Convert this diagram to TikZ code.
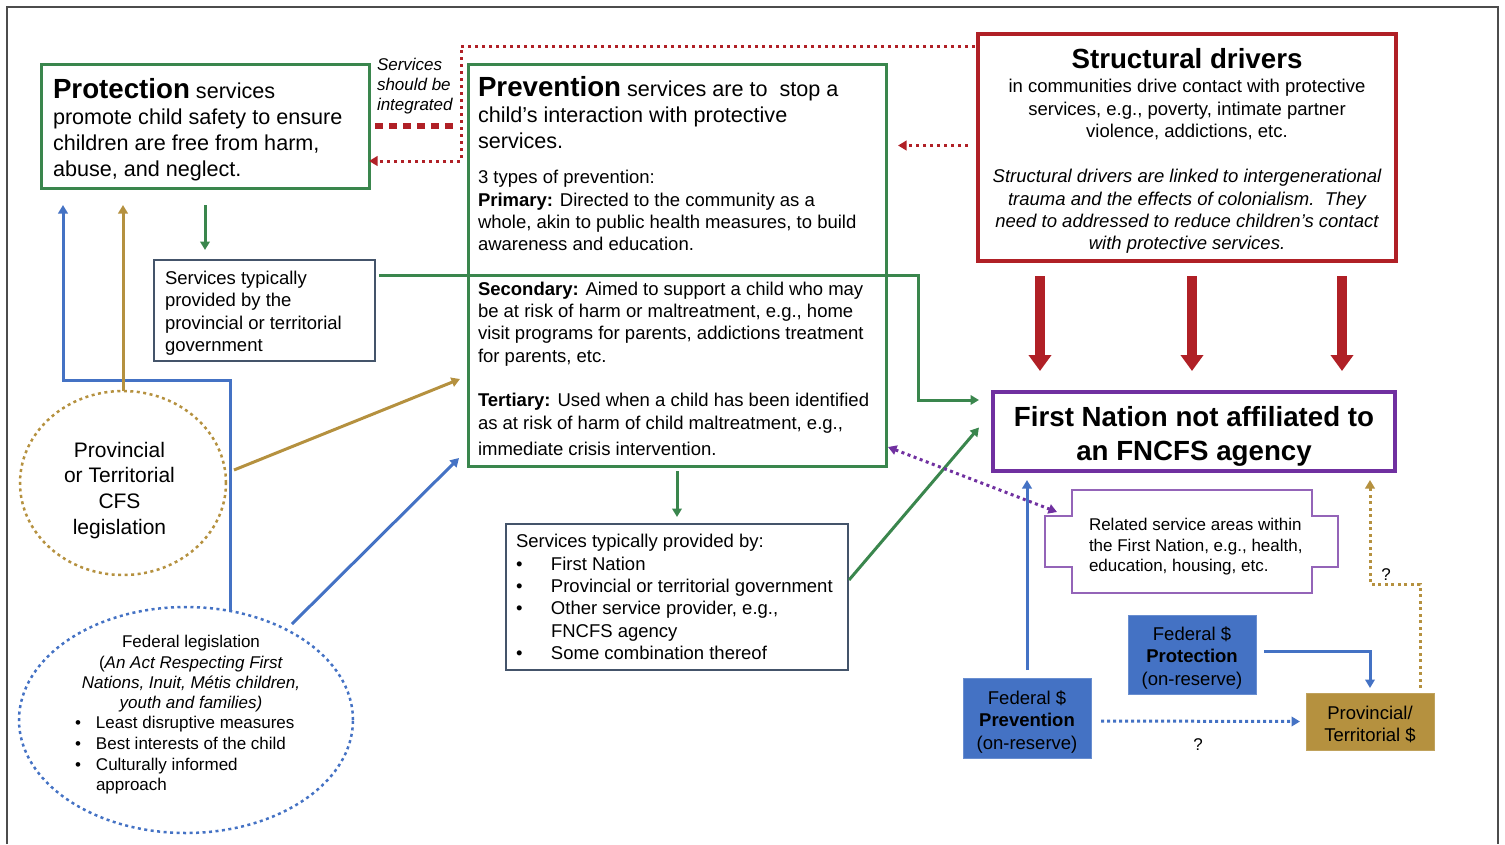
\documentclass[tikz,border=0pt]{standalone}
\usepackage{fontspec}
\setmainfont{Liberation Sans}
\usetikzlibrary{arrows.meta, calc, shapes.geometric}

\definecolor{fgreen}{RGB}{58,134,77}
\definecolor{fred}{RGB}{176,32,38}
\definecolor{fpurple}{RGB}{112,48,160}
\definecolor{fblue}{RGB}{68,114,196}
\definecolor{fgold}{RGB}{181,145,63}
\definecolor{fslate}{RGB}{68,84,106}

\begin{document}
\begin{tikzpicture}[
    x=1pt, y=-1pt,
    >={Triangle[length=8.5pt, width=9.5pt]},
    every node/.style={inner sep=0pt, outer sep=0pt},
    bigtext/.style={font=\fontsize{21.6}{26}\selectfont},
    bodytext/.style={font=\fontsize{18.5}{22.3}\selectfont},
    smalltext/.style={font=\fontsize{17}{20.3}\selectfont},
    greenbox/.style={draw=fgreen, line width=3pt, anchor=north west, align=flush left},
    plainbox/.style={draw=fslate, line width=1.2pt, anchor=north west, align=flush left, bodytext},
    cashbox/.style={draw=fblue!80!white, fill=fblue, line width=1pt, anchor=north west,
        align=flush center, bodytext, text width=120pt, inner xsep=4pt},
    legal/.style={ellipse, line width=2.5pt, dash pattern=on 3pt off 3.5pt},
    gline/.style={->, draw=fgreen, line width=3pt},
    bline/.style={->, draw=fblue, line width=3pt},
    yline/.style={->, draw=fgold, line width=3pt},
    rdots/.style={->, draw=fred, line width=3pt, dash pattern=on 3pt off 4pt},
    pdots/.style={<->, draw=fpurple, line width=3pt, dash pattern=on 3pt off 3.5pt},
    bdots/.style={->, draw=fblue, line width=3pt, dash pattern=on 3pt off 3pt},
    ydots/.style={->, draw=fgold, line width=3pt, dash pattern=on 3pt off 3.5pt},
    driver/.style={-{Triangle[length=16pt, width=22pt]}, draw=fred, line width=10pt},
]
    \useasboundingbox (0,0) rectangle (1505,844);
    \draw[black!70, line width=1.5pt] (7,844) -- (7,7) -- (1498,7) -- (1498,844);

    % top row
    \node[greenbox, bigtext, text width=304pt, inner xsep=12pt, minimum height=124pt] (prot) at (41,64)
        {\rule{0pt}{28pt}{\fontsize{27.7}{26}\selectfont\bfseries Protection} services\\
         promote child safety to ensure\\
         children are free from harm,\\
         abuse, and neglect.};

    \node[smalltext, anchor=north west, align=flush left, font=\fontsize{17}{20}\selectfont\itshape] (integ) at (377,58)
        {Services\\ should be\\ integrated};

    \node[greenbox, bigtext, text width=398pt, inner xsep=10pt, minimum height=402pt] (prev) at (468,64)
        {\rule{0pt}{22pt}{\fontsize{27.7}{26}\selectfont\bfseries Prevention} services are to\ \ stop a\\
         child’s interaction with protective\\
         services.\par
         \vskip 12.7pt
         \fontsize{18.5}{22.3}\selectfont
         3 types of prevention:\\
         \textbf{Primary:} Directed to the community as a\\
         whole, akin to public health measures, to build\\
         awareness and education.\par
         \vskip 22.3pt
         \textbf{Secondary:} Aimed to support a child who may\\
         be at risk of harm or maltreatment, e.g., home\\
         visit programs for parents, addictions treatment\\
         for parents, etc.\par
         \vskip 22.3pt
         \textbf{Tertiary:} Used when a child has been identified\\
         as at risk of harm of child maltreatment, e.g.,\\
         immediate crisis intervention.};

    \node[draw=fred, line width=3.5pt, anchor=north west, align=flush center, bodytext,
          text width=406pt, inner xsep=6pt, minimum height=227pt] (drv) at (978,34)
        {\rule{0pt}{27pt}{\fontsize{27.7}{22}\selectfont\bfseries Structural drivers}\\[2pt]
         in communities drive contact with protective\\
         services, e.g., poverty, intimate partner\\
         violence, addictions, etc.\par
         \vskip 23pt
         \itshape Structural drivers are linked to intergenerational\\
         trauma and the effects of colonialism.\ \ They\\
         need to addressed to reduce children’s contact\\
         with protective services.};

    \node[draw=fpurple, line width=4pt, anchor=north west, align=flush center,
          font=\fontsize{27.7}{34}\selectfont\bfseries,
          text width=390pt, inner xsep=6pt, minimum height=79pt] (fn) at (993,392)
        {\rule{0pt}{29pt}First Nation not affiliated to\\ an FNCFS agency};

    % service providers
    \node[plainbox, text width=199pt, inner xsep=11pt, minimum height=101pt] (svcprot) at (154,260)
        {\rule{0pt}{18.7pt}Services typically\\ provided by the\\ provincial or territorial\\ government};

    \node[plainbox, text width=322pt, inner xsep=10pt, minimum height=146pt] (svcprev) at (506,524)
        {Services typically provided by:\\
         \makebox[35pt][l]{\textbullet}First Nation\\
         \makebox[35pt][l]{\textbullet}Provincial or territorial government\\
         \makebox[35pt][l]{\textbullet}Other service provider, e.g.,\\
         \hspace*{35pt}FNCFS agency\\
         \makebox[35pt][l]{\textbullet}Some combination thereof};

    \node[minimum width=293pt, minimum height=103pt] (rel) at (1191.5,541.5) {};
    \node[smalltext, anchor=north west, align=flush left] (reltxt) at (1089,518.5)
        {Related service areas within\\ the First Nation, e.g., health,\\ education, housing, etc.};

    % funding
    \node[cashbox, minimum height=80pt] (fedprev) at (963,678)
        {\rule{0pt}{21.3pt}Federal \$\\ \textbf{Prevention}\\ (on-reserve)};
    \node[cashbox, minimum height=79pt] (fedprot) at (1128,615)
        {\rule{0pt}{20.3pt}Federal \$\\ \textbf{Protection}\\ (on-reserve)};
    \node[cashbox, draw=fgold!85!white, fill=fgold, minimum height=57pt] (provt) at (1306,693)
        {\rule{0pt}{19.5pt}Provincial/\\ Territorial \$};

    \node[smalltext] (q1) at (1198,745) {?};
    \node[smalltext] (q2) at (1386,575) {?};

    % legislation
    \node[legal, draw=fgold, minimum width=206pt, minimum height=184pt] (provleg) at (123,483) {};
    \node[anchor=north, align=center, font=\fontsize{21}{25.7}\selectfont] (provtxt) at (119.5,442)
        {Provincial\\ or Territorial\\ CFS\\ legislation};

    \node[legal, draw=fblue, minimum width=334pt, minimum height=226pt] (fedleg) at (186,720) {};
    \node[smalltext, anchor=north, align=center] (fedtitle) at (191,635.5)
        {Federal legislation\\
         (\textit{An Act Respecting First}\\
         \textit{Nations, Inuit, Métis children,}\\
         \textit{youth and families)}};
    \node[smalltext, anchor=north west, align=flush left] (fedlist) at (75,716.5)
        {\makebox[21pt][l]{\textbullet}Least disruptive measures\\[0.7pt]
         \makebox[21pt][l]{\textbullet}Best interests of the child\\
         \makebox[21pt][l]{\textbullet}Culturally informed\\
         \hspace*{21pt}approach};

    % related areas outline
    \draw[draw=fpurple!75!white, line width=1.2pt]
        ($(rel.north west)+(27,0)$) -- ($(rel.north east)+(-26,0)$)
        -- ($(rel.north east)+(-26,26)$) -- ($(rel.north east)+(0,26)$)
        -- ($(rel.south east)+(0,-26)$) -- ($(rel.south east)+(-26,-26)$)
        -- ($(rel.south east)+(-26,0)$) -- ($(rel.south west)+(27,0)$)
        -- ($(rel.south west)+(27,-26)$) -- ($(rel.south west)+(0,-26)$)
        -- ($(rel.north west)+(0,26)$) -- ($(rel.north west)+(27,26)$) -- cycle;

    % connectors
    \coordinate (rbend) at (461,161);
    \coordinate (gbend) at (918,400);
    \coordinate (bbend) at (230,380);
    \coordinate (ybend) at (1370,584);

    \draw[draw=fred, line width=6pt, dash pattern=on 8pt off 6pt]
        ($(prot.east)+(6,0)$) -- ($(prot.east -| prev.west)+(-13,0)$);
    \draw[rdots] ($(drv.north west)+(-3,12)$) -| (rbend) -- (rbend -| prot.east);
    \draw[rdots] ($(drv.west)+(-10,-2)$) -- ($(drv.west -| prev.east)+(12,-2)$);

    \foreach \dx in {62,214,364}
        \draw[driver] ($(drv.south west)+(\dx,15)$) -- ($(drv.south west |- fn.north)+(\dx,-21)$);

    \draw[gline] ($(prot.south)+(0,17)$) -- ($(prot.south |- svcprot.north)+(0,-10)$);
    \draw[gline] ($(prev.south)+(0,5)$) -- ($(prev.south |- svcprev.north)+(0,-7)$);
    \draw[gline] ($(svcprot.north east)+(4,15)$) -| (gbend) -- ($(gbend -| fn.west)+(-14,0)$);
    \draw[gline] ($(svcprev.east)+(1,-17)$) -- ($(fn.west)+(-14,-4)$);

    \draw[pdots] ($(prev.south east)+(2,-19)$) -- ($(rel.north west)+(12,22)$);

    \draw[bline] ($(fedprev.north)+(0,-8)$) -- ($(fedprev.north |- fn.south)+(0,9)$);
    \draw[bline] ($(fedprot.east)+(8,-3)$) -| ($(provt.north)+(0,-5)$);
    \draw[bdots] ($(fedprev.east)+(10,3)$) -- ($(provt.west)+(-6,0)$);
    \draw[ydots] ($(provt.north east)+(-14,-5)$) |- (ybend) -- ($(ybend |- fn.south)+(0,9)$);

    \draw[bline] ($(fedleg.north)+(44,4)$) -- (bbend) -| ($(prot.south west)+(22,17)$);
    \draw[yline] (provleg.north) -- ($(prot.south west)+(82,17)$);
    \draw[yline] ($(provleg.east)+(8,-13)$) -- ($(prev.west)+(-8,114)$);
    \draw[bline] ($(fedleg.north)+(106,17)$) -- ($(prev.south west)+(-9,-8)$);
\end{tikzpicture}
\end{document}
